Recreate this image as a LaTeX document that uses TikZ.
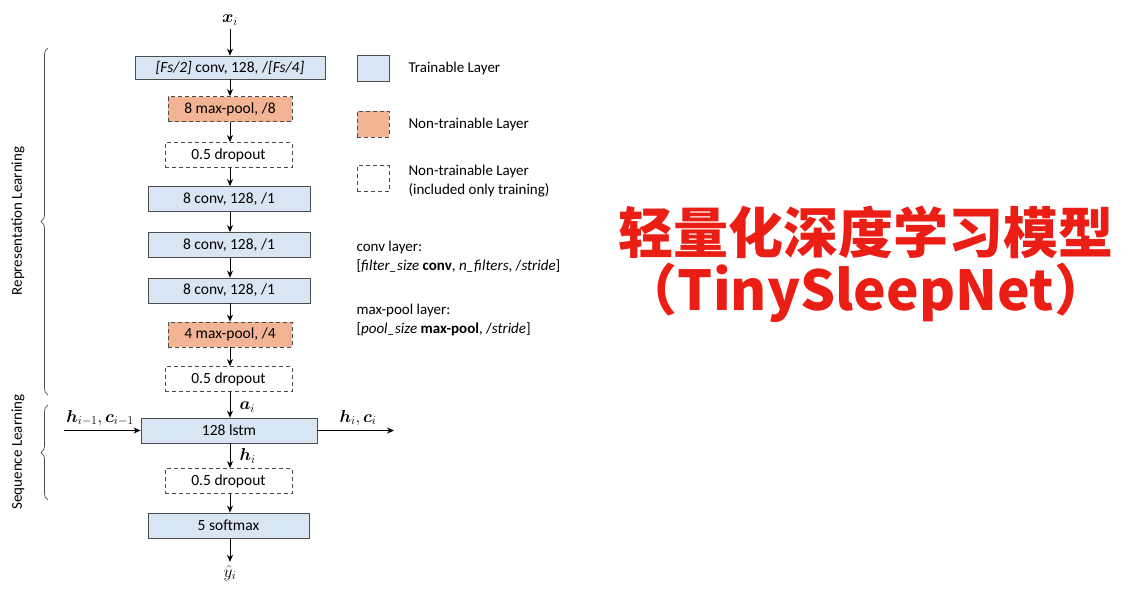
\documentclass[tikz,border=0pt]{standalone}
\usepackage{amsmath,bm}
\usepackage{fontspec}
\setmainfont{Carlito}
\newfontfamily\cjk{Noto Sans CJK SC Black}
\usetikzlibrary{decorations.pathreplacing,arrows.meta}
\definecolor{tb}{RGB}{216,229,243}
\definecolor{nt}{RGB}{242,180,148}
\definecolor{ttl}{RGB}{235,30,22}
\tikzset{
 lay/.style={draw=black!70,line width=0.8pt,minimum height=25pt,inner sep=0pt,font=\fontsize{15.5}{18}\selectfont},
 trn/.style={lay,fill=tb},
 ntr/.style={lay,fill=nt,dashed,dash pattern=on 4pt off 3pt},
 drp/.style={lay,dashed,dash pattern=on 4pt off 3pt},
 arr/.style={-{Stealth[length=7pt,width=6pt]},line width=0.8pt},
 br/.style={decorate,decoration={brace,amplitude=7pt,mirror},line width=0.7pt,black!70},
 lbl/.style={font=\fontsize{15}{19}\selectfont},
 mth/.style={font=\fontsize{18}{20}\selectfont}
}
\begin{document}
\begin{tikzpicture}[x=1pt,y=-1pt]
\useasboundingbox (0,0) rectangle (1125,600);
\node[mth] (x) at (230,20) {$\bm{x}_i$};
\node[trn,minimum width=190pt,minimum height=23pt] (c1) at (230,67.5) {\textit{[Fs/2]} conv, 128, /\textit{[Fs/4]}};
\node[ntr,minimum width=124pt] (m1) at (230,109) {8 max-pool, /8};
\node[drp,minimum width=127pt] (d1) at (228.5,155) {0.5 dropout};
\node[trn,minimum width=162pt] (c2) at (229,199) {8 conv, 128, /1};
\node[trn,minimum width=162pt] (c3) at (229,245) {8 conv, 128, /1};
\node[trn,minimum width=162pt] (c4) at (229,290.5) {8 conv, 128, /1};
\node[ntr,minimum width=124pt] (m2) at (230,334.5) {4 max-pool, /4};
\node[drp,minimum width=127pt] (d2) at (228.5,379) {0.5 dropout};
\node[trn,minimum width=176pt] (l) at (229,430.5) {128 lstm};
\node[drp,minimum width=127pt] (d3) at (228.5,481) {0.5 dropout};
\node[trn,minimum width=161pt] (s) at (228.5,525.5) {5 softmax};
\node[mth] (y) at (230,573) {$\hat{y}_i$};
\foreach \a/\b in {x/c1,c1/m1,m1/d1,d1/c2,c2/c3,c3/c4,c4/m2,m2/d2,d2/l,l/d3,d3/s,s/y}
  \draw[arr] (\a.south -| 230,0) -- (\b.north -| 230,0);
\node[mth,anchor=west] (ai) at (236,407) {$\bm{a}_i$};
\node[mth,anchor=west] (hi) at (236,456) {$\bm{h}_i$};
\coordinate (inl) at (64,430.5);
\coordinate (outr) at (394,430.5);
\draw[arr] (inl) -- (l.west);
\draw[arr] (l.east) -- (outr);
\node[mth] (hp) at (100,418) {$\bm{h}_{i-1},\bm{c}_{i-1}$};
\node[mth] (hn) at (358,418) {$\bm{h}_i,\bm{c}_i$};
\draw[br] (48,48) -- (48,395);
\draw[br] (48,405) -- (48,500);
\node[lbl,rotate=90] (rl) at (18,221) {Representation Learning};
\node[lbl,rotate=90] (sl) at (18,452) {Sequence Learning};
\node[trn,minimum width=32pt,minimum height=26pt] (k1) at (373,68) {};
\node[ntr,minimum width=32pt,minimum height=26pt] (k2) at (373,124) {};
\node[drp,minimum width=32pt,minimum height=26pt] (k3) at (373,178.5) {};
\node[lbl,anchor=west] (t1) at (405,68) {Trainable Layer};
\node[lbl,anchor=west] (t2) at (405,124) {Non-trainable Layer};
\node[lbl,anchor=west,align=left] (t3) at (405,181) {Non-trainable Layer\\(included only training)};
\node[lbl,anchor=west,align=left] (cv) at (353,257) {conv layer:\\{}[\textit{filter\_size} \textbf{conv}, \textit{n\_filters}, /\textit{stride}]};
\node[lbl,anchor=west,align=left] (mp) at (353,320) {max-pool layer:\\{}[\textit{pool\_size} \textbf{max-pool}, /\textit{stride}]};
\node[font=\cjk\fontsize{55}{60}\selectfont,text=ttl] (ti) at (866,232) {轻量化深度学习模型};
\node[font=\cjk\fontsize{55}{60}\selectfont,text=ttl] (ti2) at (866,293) {（TinySleepNet）};
\end{tikzpicture}
\end{document}
